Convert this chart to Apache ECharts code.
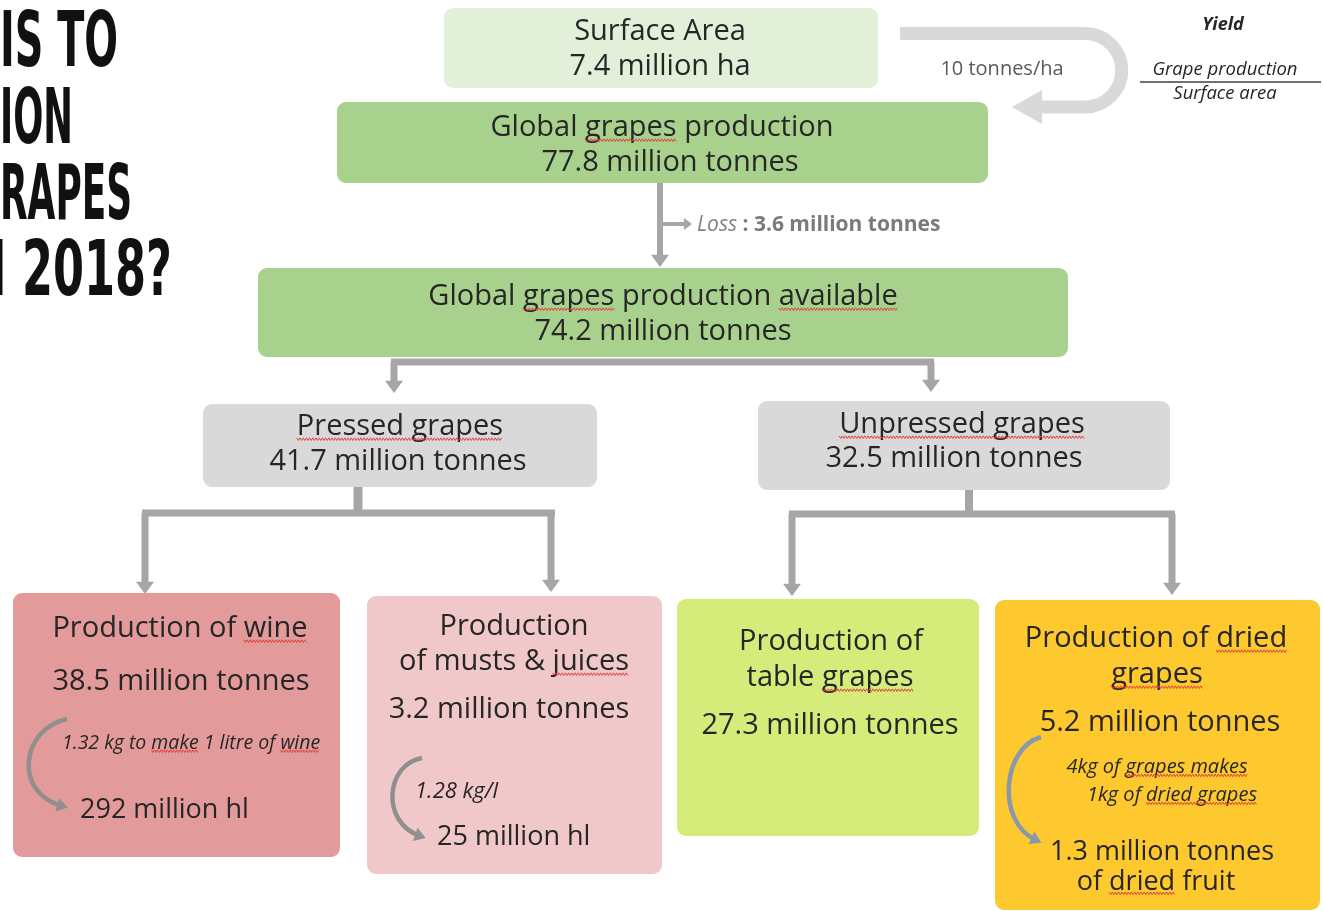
<!DOCTYPE html>
<html><head><meta charset="utf-8">
<script src="https://cdn.jsdelivr.net/npm/echarts@6/dist/echarts.min.js"></script>
<style>html,body{margin:0;padding:0;background:#fff}#c{width:1323px;height:911px}</style>
</head><body><div id="c"></div>
<script>
// ---------------- data ----------------
const titleLines = ['IS TO', 'ION', 'RAPES', 'N 2018?'];
const stageNames = [
  'Surface Area',
  'Global grapes production',
  'Global grapes production available',
  'Pressed grapes',
  'Unpressed grapes',
  'Production of wine',
  'Production\nof musts & juices',
  'Production of\ntable grapes',
  'Production of dried\ngrapes'
];
const stageValues = [7.4, 77.8, 74.2, 41.7, 32.5, 38.5, 3.2, 27.3, 5.2];
const stageUnits = ['million ha', 'million tonnes', 'million tonnes', 'million tonnes', 'million tonnes',
  'million tonnes', 'million tonnes', 'million tonnes', 'million tonnes'];
const yieldValue = 10;
const yieldUnit = 'tonnes/ha';
const yieldLabels = ['Yield', 'Grape production', 'Surface area'];
const lossLabel = 'Loss';
const lossValue = 3.6;
const lossUnit = 'million tonnes';
const conversionNotes = ['1.32 kg to make 1 litre of wine', '1.28 kg/l', '', '4kg of grapes makes\n1kg of dried grapes'];
const outputValues = [292, 25, null, 1.3];
const outputUnits = ['million hl', 'million hl', '', 'million tonnes\nof dried fruit'];

// ---------------- layout / style ----------------
const W = 1323, H = 911;
const FONT = "'Open Sans', 'Noto Sans', sans-serif";
const TXT = '#262626';
const GRAY = '#a6a6a6';
const BIG = 29;
const boxLayout = [
  { r: [444, 8, 878, 88], fill: '#e2efd9', name: [[660, 32]], value: [[660, 67]] },
  { r: [337, 102, 988, 183], fill: '#a9d18e', name: [[662, 128]], value: [[670, 163]],
    squig: [['name', 0, 'grapes']] },
  { r: [258, 268, 1068, 357], fill: '#a9d18e', name: [[663, 297]], value: [[663, 332]],
    squig: [['name', 0, 'grapes'], ['name', 0, 'available']] },
  { r: [203, 404, 597, 487], fill: '#d9d9d9', name: [[400, 427]], value: [[398, 462]],
    squig: [['name', 0, 'Pressed grapes']] },
  { r: [758, 401, 1170, 490], fill: '#d9d9d9', name: [[962, 425]], value: [[954, 459]],
    squig: [['name', 0, 'Unpressed grapes']] },
  { r: [13, 593, 340, 857], fill: '#e39a9b', name: [[180, 629]], value: [[181, 682]],
    note: [[62, 743, 'left']], out: [[80, 810, 'left']], noteSize: 19.5,
    squig: [['name', 0, 'wine'], ['note', 0, 'make'], ['note', 0, 'wine']] },
  { r: [367, 596, 662, 874], fill: '#f0c8ca', name: [[514, 627], [514, 662]], value: [[509, 710]],
    note: [[415, 792, 'left']], out: [[437, 837, 'left']], noteSize: 22,
    squig: [['name', 1, 'juices']] },
  { r: [677, 599, 979, 836], fill: '#d6ec7a', name: [[831, 642], [830, 678]], value: [[830, 726]],
    squig: [['name', 1, 'grapes']] },
  { r: [995, 600, 1320, 910], fill: '#fec92f', name: [[1156, 639], [1157, 675]], value: [[1160, 723]],
    note: [[1157, 767], [1172, 795]], out: [[1162, 852], [1156, 882]], noteSize: 20,
    squig: [['name', 0, 'dried'], ['name', 1, 'grapes'], ['note', 0, 'grapes makes'], ['note', 1, 'dried grapes'], ['out', 1, 'dried']] }
];
const connectorLayout = [
  { pts: [[660, 183], [660, 256]], tip: [660, 267, 'down'], w: 6 },
  { pts: [[660, 224], [684, 224]], tip: [692, 224, 'right'], w: 4, head: 6 },
  { pts: [[391, 362], [934, 362]], w: 7 },
  { pts: [[394, 362], [394, 381]], tip: [394, 393, 'down'], w: 7 },
  { pts: [[931, 362], [931, 380]], tip: [931, 392, 'down'], w: 7 },
  { pts: [[358, 487], [358, 513]], w: 9 },
  { pts: [[142, 513], [555, 513]], w: 7 },
  { pts: [[145, 513], [145, 582]], tip: [145, 594, 'down'], w: 7 },
  { pts: [[551, 513], [551, 580]], tip: [551, 592, 'down'], w: 7 },
  { pts: [[969, 490], [969, 514]], w: 8 },
  { pts: [[789, 514], [1175, 514]], w: 7 },
  { pts: [[792, 514], [792, 584]], tip: [792, 596, 'down'], w: 7 },
  { pts: [[1172, 514], [1172, 583]], tip: [1172, 595, 'down'], w: 7 }
];
const curveLayout = [
  { p: [[67, 719], [22, 728], [12, 792], [62, 806]], color: '#8f8f8f' },
  { p: [[422, 758], [386, 764], [380, 822], [420, 836]], color: '#8f8f8f' },
  { p: [[1041, 737], [1002, 748], [996, 822], [1036, 840]], color: '#8a98aa' }
];
// title: visible portion fit
const TITLE_FAMILY = "'Liberation Sans Narrow', 'DejaVu Sans Condensed', 'DejaVu Sans', sans-serif";
const TITLE_SIZE = 76;
const titleFitText = ['IS TO', 'ION', 'RAPES', '2018?'];
const titleFitSpan = [[0, 118], [0, 73], [0, 132], [22, 172]];
const titleY = [46, 123, 199, 275];

const cv = document.createElement('canvas').getContext('2d');
function measure(text, font) { cv.font = font; return cv.measureText(text).width; }
function fontStr(size, style, weight) { return (style || 'normal') + ' ' + (weight || 'normal') + ' ' + size + 'px ' + FONT; }
function fmt(v) { return String(v); }

function textEl(x, y, text, size, opts) {
  opts = opts || {};
  return {
    type: 'text', x: x, y: y,
    style: {
      text: text, fill: opts.color || TXT,
      font: fontStr(size, opts.style, opts.weight),
      align: opts.align || 'center', verticalAlign: 'middle'
    }
  };
}
function squiggle(x0, x1, y) {
  const pts = []; let k = 0;
  for (let x = x0; x <= x1; x += 1.6, k++) pts.push([x, y + (k % 2 ? 1.3 : -1.3)]);
  return { type: 'polyline', shape: { points: pts }, style: { stroke: '#e0403c', lineWidth: 1, fill: null } };
}
function arrowHead(api, tx, ty, dir, len, half) {
  let pts;
  if (dir === 'down') pts = [[tx, ty], [tx - half, ty - len], [tx + half, ty - len]];
  else if (dir === 'right') pts = [[tx, ty], [tx - len, ty - half], [tx - len, ty + half]];
  else pts = [[tx, ty], [tx + len, ty - half], [tx + len, ty + half]];
  return pts.map(p => api.coord(p));
}

const chart = echarts.init(document.getElementById('c'));
chart.setOption({
  backgroundColor: '#ffffff',
  animation: false,
  grid: { left: 0, right: 0, top: 0, bottom: 0 },
  xAxis: { type: 'value', min: 0, max: W, show: false },
  yAxis: { type: 'value', min: 0, max: H, inverse: true, show: false },
  series: [
    { // stage boxes
      type: 'custom', name: 'stages',
      data: stageValues.map((v, i) => [i, v]),
      renderItem: function (params, api) {
        const i = api.value(0);
        const b = boxLayout[i];
        const p0 = api.coord([b.r[0], b.r[1]]);
        const p1 = api.coord([b.r[2], b.r[3]]);
        const children = [{
          type: 'rect',
          shape: { x: p0[0], y: p0[1], width: p1[0] - p0[0], height: p1[1] - p0[1], r: 9 },
          style: { fill: b.fill }
        }];
        const lines = {};
        const addLines = (key, txt, pos, size, opts) => {
          lines[key] = [];
          txt.split('\n').forEach((t, k) => {
            const q = pos[k]; const c = api.coord([q[0], q[1]]);
            const align = q[2] || 'center';
            children.push(textEl(c[0], c[1], t, size, Object.assign({ align: align }, opts)));
            lines[key].push({ t: t, x: c[0], y: c[1], align: align, size: size, font: fontStr(size, opts && opts.style) });
          });
        };
        addLines('name', stageNames[i], b.name, BIG);
        addLines('value', fmt(api.value(1)) + ' ' + stageUnits[i], b.value, BIG);
        const j = i - 5;
        if (b.note && conversionNotes[j]) addLines('note', conversionNotes[j], b.note, b.noteSize, { style: 'italic' });
        if (b.out && outputValues[j] != null) addLines('out', fmt(outputValues[j]) + ' ' + outputUnits[j], b.out, 27);
        (b.squig || []).forEach(s => {
          const L = lines[s[0]][s[1]];
          const total = measure(L.t, L.font);
          const start = L.align === 'left' ? L.x : L.x - total / 2;
          const idx = L.t.indexOf(s[2]);
          const xa = start + measure(L.t.slice(0, idx), L.font);
          const xb = xa + measure(s[2], L.font);
          children.push(squiggle(xa, xb, L.y + L.size * 0.42));
        });
        return { type: 'group', children: children };
      },
      z: 2
    },
    { // connectors
      type: 'custom', name: 'connectors',
      data: connectorLayout.map((c, i) => [i]),
      renderItem: function (params, api) {
        const c = connectorLayout[api.value(0)];
        const children = [{
          type: 'polyline',
          shape: { points: c.pts.map(p => api.coord(p)) },
          style: { stroke: GRAY, lineWidth: c.w, fill: null, lineCap: 'butt' }
        }];
        if (c.tip) {
          const h = c.head || 9;
          children.push({ type: 'polygon', shape: { points: arrowHead(api, c.tip[0], c.tip[1], c.tip[2], h * 1.35, h) }, style: { fill: GRAY } });
        }
        return { type: 'group', children: children };
      },
      z: 1
    },
    { // curved conversion arrows inside boxes
      type: 'custom', name: 'conversions',
      data: curveLayout.map((c, i) => [i]),
      renderItem: function (params, api) {
        const c = curveLayout[api.value(0)];
        const P = c.p.map(p => api.coord(p));
        const dx = P[3][0] - P[2][0], dy = P[3][1] - P[2][1];
        const L = Math.hypot(dx, dy), ux = dx / L, uy = dy / L;
        const tip = [P[3][0] + ux * 6, P[3][1] + uy * 6];
        const back = [tip[0] - ux * 11, tip[1] - uy * 11];
        return {
          type: 'group', children: [
            { type: 'bezierCurve', shape: { x1: P[0][0], y1: P[0][1], cpx1: P[1][0], cpy1: P[1][1], cpx2: P[2][0], cpy2: P[2][1], x2: P[3][0], y2: P[3][1] },
              style: { stroke: c.color, lineWidth: 4.5, fill: null } },
            { type: 'polygon', shape: { points: [tip, [back[0] - uy * 7, back[1] + ux * 7], [back[0] + uy * 7, back[1] - ux * 7]] }, style: { fill: c.color } }
          ]
        };
      },
      z: 3
    },
    { // annotations: yield loop, loss, yield formula, title
      type: 'custom', name: 'annotations',
      data: [[0]],
      renderItem: function (params, api) {
        const children = [];
        const a = api.coord([900, 33.5]), b = api.coord([1085, 33.5]), c = api.coord([1085, 107]), d = api.coord([1040, 107]);
        const R = (c[1] - b[1]) / 2;
        children.push({ type: 'path', shape: { pathData: `M${a[0]} ${a[1]} L${b[0]} ${b[1]} A${R} ${R} 0 0 1 ${c[0]} ${c[1]} L${d[0]} ${d[1]}` },
          style: { stroke: '#d9d9d9', lineWidth: 13, fill: null } });
        children.push({ type: 'polygon', shape: { points: arrowHead(api, 1012, 107, 'left', 30, 17) }, style: { fill: '#d9d9d9' } });
        let p = api.coord([1002, 69]);
        children.push(textEl(p[0], p[1], yieldValue + ' ' + yieldUnit, 20, { color: '#595959' }));
        p = api.coord([1223, 25]);
        children.push(textEl(p[0], p[1], yieldLabels[0], 18, { style: 'italic', weight: 'bold', color: '#262626' }));
        p = api.coord([1225, 70]);
        children.push(textEl(p[0], p[1], yieldLabels[1], 18.5, { style: 'italic', color: '#262626' }));
        const l0 = api.coord([1140, 82]), l1 = api.coord([1321, 82]);
        children.push({ type: 'line', shape: { x1: l0[0], y1: l0[1], x2: l1[0], y2: l1[1] }, style: { stroke: '#404040', lineWidth: 1.5 } });
        p = api.coord([1225, 94]);
        children.push(textEl(p[0], p[1], yieldLabels[2], 18.5, { style: 'italic', color: '#262626' }));
        p = api.coord([697, 225]);
        children.push({ type: 'text', x: p[0], y: p[1], style: {
          text: '{i|' + lossLabel + '}{b| : ' + lossValue + ' ' + lossUnit + '}',
          align: 'left', verticalAlign: 'middle',
          rich: { i: { font: fontStr(21, 'italic'), fill: '#808080' }, b: { font: fontStr(21, 'normal', 'bold'), fill: '#7a7a7a' } }
        } });
        titleLines.forEach((t, k) => {
          const tf = 'normal bold ' + TITLE_SIZE + 'px ' + TITLE_FAMILY;
          const s = (titleFitSpan[k][1] - titleFitSpan[k][0]) / measure(titleFitText[k], tf);
          const q = api.coord([titleFitSpan[k][1], titleY[k]]);
          children.push({ type: 'text', x: q[0], y: q[1], scaleX: s, scaleY: 1,
            style: { text: t, fill: '#111', font: tf, align: 'right', verticalAlign: 'middle' } });
        });
        return { type: 'group', children: children };
      },
      z: 4
    }
  ]
});
</script></body></html>
